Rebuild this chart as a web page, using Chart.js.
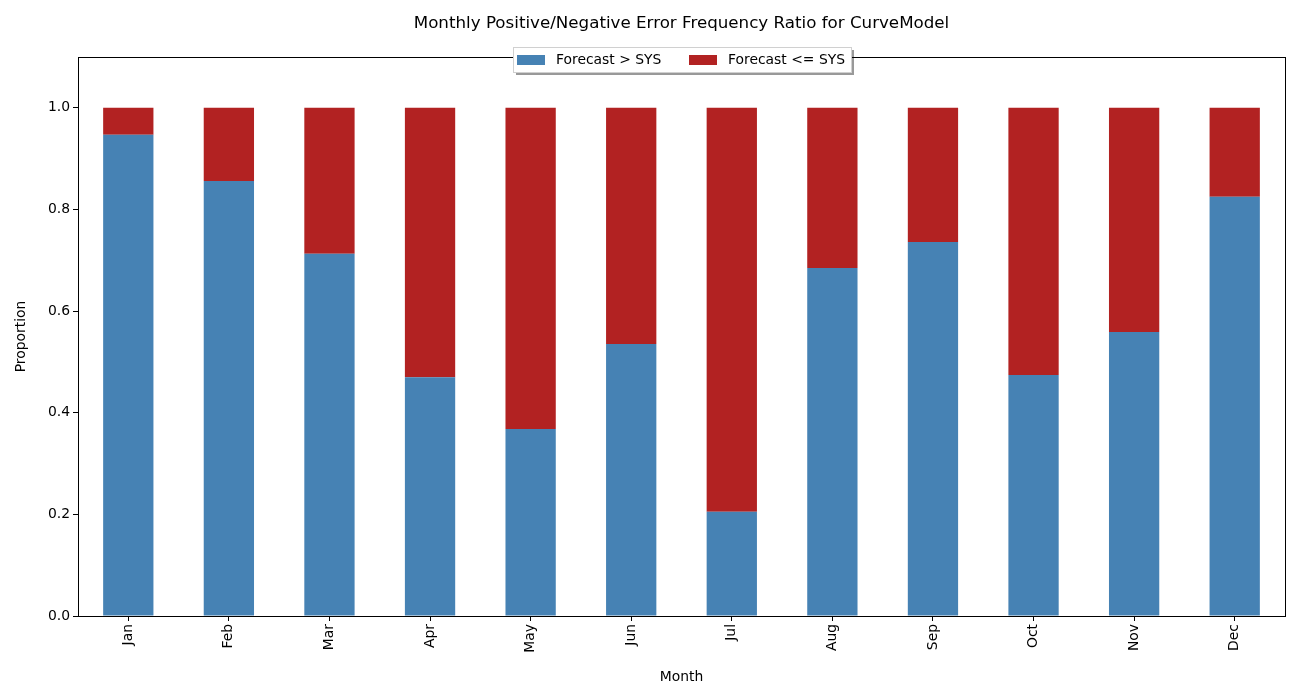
<!DOCTYPE html>
<html><head><meta charset="utf-8">
<script src="https://cdn.jsdelivr.net/npm/chart.js@4"></script>
<style>html,body{margin:0;padding:0;background:#fff}#wrap{width:1300px;height:700px}</style>
</head><body><div id="wrap"><canvas id="c" width="1300" height="700"></canvas></div>
<script>
const months = ["Jan","Feb","Mar","Apr","May","Jun","Jul","Aug","Sep","Oct","Nov","Dec"];
const positiveRatio = [0.947,0.856,0.713,0.470,0.368,0.535,0.205,0.685,0.736,0.474,0.559,0.825];
const negativeRatio = [0.053,0.144,0.287,0.530,0.632,0.465,0.795,0.315,0.264,0.526,0.441,0.175];
const yTicks = [0.0,0.2,0.4,0.6,0.8,1.0];
const chartTitle = 'Monthly Positive/Negative Error Frequency Ratio for CurveModel';
const FONT = "'DejaVu Sans', sans-serif";
const FS = 13.9;

const framePlugin = {
  id:'frame',
  afterDraw(chart){
    const {ctx, chartArea:a} = chart;
    ctx.save();
    ctx.strokeStyle = '#000'; ctx.lineWidth = 1;
    ctx.strokeRect(Math.round(a.left)+0.5, Math.round(a.top)+0.5, Math.round(a.right-a.left), Math.round(a.bottom-a.top));
    // title centered over plot area
    ctx.font = "16.7px " + FONT;
    ctx.fillStyle = '#000';
    ctx.textAlign = 'center';
    ctx.textBaseline = 'middle';
    ctx.fillText(chartTitle, (a.left + a.right)/2, 24);
    // legend
    const items = chart.data.datasets.map(d=>({label:d.label,color:d.backgroundColor}));
    ctx.font = FS + "px " + FONT;
    const bx = 513, by = 47, bw = 338, bh = 25;
    ctx.fillStyle = 'rgba(0,0,0,0.4)';
    ctx.fillRect(bx+3, by+3, bw, bh);
    ctx.fillStyle = '#fff';
    ctx.fillRect(bx, by, bw, bh);
    ctx.strokeStyle = '#d0d0d0';
    ctx.strokeRect(bx+0.5, by+0.5, bw, bh);
    const xs = [517, 689];
    items.forEach((it,i)=>{
      ctx.fillStyle = it.color;
      ctx.fillRect(xs[i], 55, 28, 10);
      ctx.fillStyle = '#000';
      ctx.textBaseline = 'middle';
      ctx.textAlign = 'left';
      ctx.fillText(it.label, xs[i]+39, 60);
    });
    ctx.restore();
  }
};

new Chart(document.getElementById('c'), {
  type:'bar',
  data:{
    labels: months,
    datasets:[
      {label:'Forecast > SYS', data: positiveRatio, backgroundColor:'#4682b4', borderWidth:0, barPercentage:0.5, categoryPercentage:1.0},
      {label:'Forecast <= SYS', data: negativeRatio, backgroundColor:'#b22222', borderWidth:0, barPercentage:0.5, categoryPercentage:1.0}
    ]
  },
  options:{
    responsive:false, animation:false, devicePixelRatio:1,
    layout:{padding:{left:0,right:15,top:57,bottom:0}},
    plugins:{
      legend:{display:false},
      tooltip:{enabled:false},
      title:{display:false}
    },
    scales:{
      x:{
        stacked:true,
        grid:{display:true, offset:false, drawOnChartArea:false, tickLength:5, color:'#000'},
        border:{display:false},
        ticks:{color:'#000', font:{family:FONT,size:FS}, minRotation:90, maxRotation:90, padding:3},
        title:{display:true, text:'Month', color:'#000', font:{family:FONT,size:FS}, padding:{top:0,bottom:14}},
        afterFit(s){ s.height = 84; }
      },
      y:{
        stacked:true, min:0, max:1.1,
        afterBuildTicks(s){ s.ticks = yTicks.map(v=>({value:v})); },
        grid:{display:true, drawOnChartArea:false, tickLength:5, color:'#000'},
        border:{display:false},
        ticks:{color:'#000', font:{family:FONT,size:FS}, padding:3, callback:v=>Number(v).toFixed(1)},
        title:{display:true, text:'Proportion', color:'#000', font:{family:FONT,size:FS}, padding:{top:13,bottom:0}},
        afterFit(s){ s.width = 78; }
      }
    }
  },
  plugins:[framePlugin]
});
</script></body></html>
